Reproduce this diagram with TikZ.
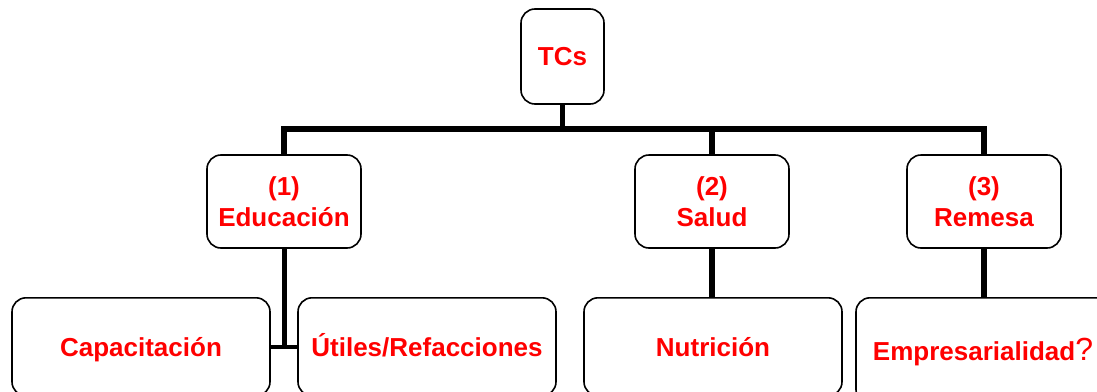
\documentclass[tikz,border=0pt]{standalone}
\usepackage{fontspec}
\setmainfont{Liberation Sans}
\begin{document}
\begin{tikzpicture}[x=1pt,y=-1pt,
  box/.style={draw=black, line width=1.6pt, rounded corners=14pt, fill=white, text=red,
    font=\bfseries\fontsize{26}{31}\selectfont, align=center, inner sep=0pt},
  leaf/.style={box, text height=18.6pt, text depth=0pt, anchor=north},
  conn/.style={line width=5.5pt, line join=miter}]
\useasboundingbox (0,0) rectangle (1097,391);
\clip (0,0) rectangle (1097,391);
\node[box, minimum width=83pt, minimum height=95pt] (tcs) at (562.5,56.5) {TCs};
\node[box, minimum width=154pt, minimum height=93pt] (edu) at (284,201.5) {(1)\\Educación};
\node[box, minimum width=154pt, minimum height=93pt] (sal) at (712,201.5) {(2)\\Salud};
\node[box, minimum width=154pt, minimum height=93pt] (rem) at (984,201.5) {(3)\\Remesa};
\node[leaf, minimum width=258pt, minimum height=98pt] (cap) at (141,297) {Capacitación};
\node[leaf, minimum width=258pt, minimum height=98pt] (ut) at (427,297) {Útiles/Refacciones};
\node[leaf, minimum width=258pt, minimum height=98pt] (nut) at (713,297) {Nutrición};
\node[leaf, minimum width=254pt, minimum height=106pt] (emp) at (983,297) {Empresarialidad{\mdseries\fontsize{32}{32}\selectfont ?}};
\coordinate (bar) at (562,129);
\draw[conn] (tcs.south) -- (tcs.south |- bar);
\draw[conn] (edu.north) -- (edu.north |- bar) -- (rem.north |- bar) -- (rem.north);
\draw[conn] (sal.north) -- (sal.north |- bar);
\coordinate (j) at (edu.south |- cap.east);
\draw[conn, line width=5pt] (edu.south) -- ([yshift=2pt]j);
\draw[line width=4.5pt] (cap.east) -- (ut.west);
\draw[conn] (sal.south) -- (sal.south |- nut.north);
\draw[conn] (rem.south) -- (rem.south |- emp.north);
\end{tikzpicture}
\end{document}
